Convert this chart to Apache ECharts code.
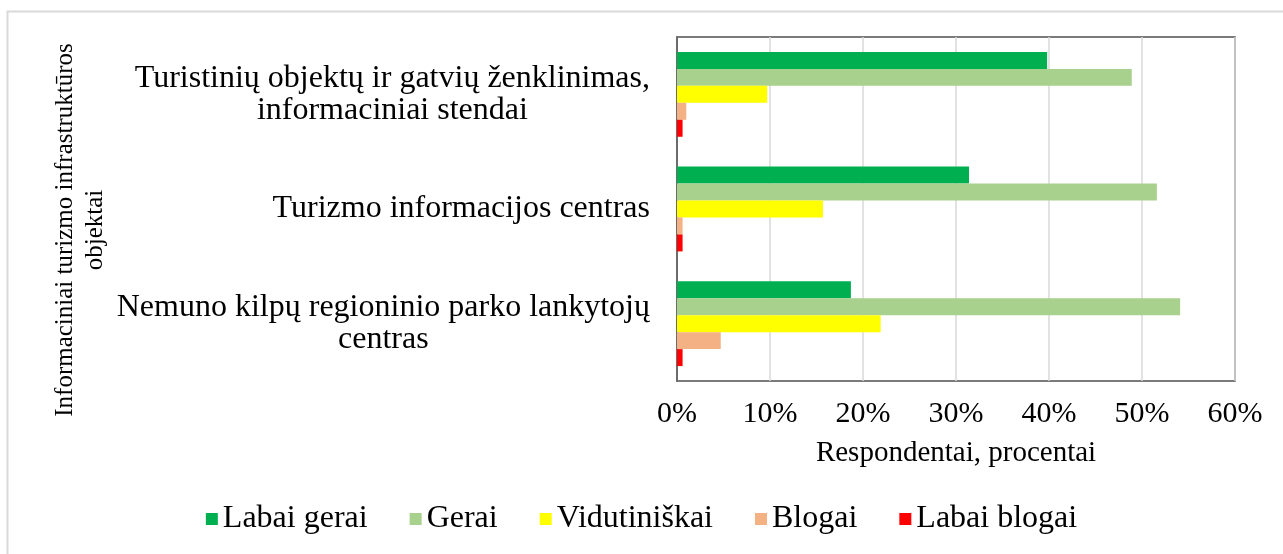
<!DOCTYPE html>
<html>
<head>
<meta charset="utf-8">
<script src="https://cdn.jsdelivr.net/npm/echarts@6/dist/echarts.min.js"></script>
<style>
  html, body { margin: 0; padding: 0; background: #fff; }
  #main { width: 1283px; height: 554px; }
</style>
</head>
<body>
<div id="main"></div>
<script>
// objektai (iš viršaus į apačią)
var categories = [
  'Turistinių objektų ir gatvių ženklinimas,\ninformaciniai stendai',
  'Turizmo informacijos centras',
  'Nemuno kilpų regioninio parko lankytojų\ncentras'
];
var seriesNames = ['Labai gerai', 'Gerai', 'Vidutiniškai', 'Blogai', 'Labai blogai'];
var seriesColors = ['#00B050', '#A9D18E', '#FFFF00', '#F4B183', '#FF0000'];

// procentai
var labaiGerai = [39.8, 31.4, 18.7];
var gerai = [48.9, 51.6, 54.1];
var vidutiniskai = [9.7, 15.7, 21.9];
var blogai = [1.0, 0.6, 4.7];
var labaiBlogai = [0.6, 0.6, 0.6];

var xTicks = { min: 0, max: 60, interval: 10 };

var values = [labaiGerai, gerai, vidutiniskai, blogai, labaiBlogai];
var font = '"Liberation Serif", "Times New Roman", serif';

var chart = echarts.init(document.getElementById('main'));

chart.setOption({
  animation: false,
  textStyle: { fontFamily: font, color: '#000' },
  graphic: [{
    type: 'rect',
    shape: { x: 7.5, y: 11.5, width: 1300, height: 600 },
    style: { fill: 'none', stroke: '#d9d9d9', lineWidth: 2 },
    silent: true
  }, {
    // y ašies pavadinimas
    type: 'text',
    x: 80,
    y: 230,
    rotation: Math.PI / 2,
    silent: true,
    style: {
      text: 'Informaciniai turizmo infrastruktūros\nobjektai',
      font: '25px ' + font,
      lineHeight: 30,
      fill: '#000',
      align: 'center',
      verticalAlign: 'middle'
    }
  }],
  grid: {
    left: 677, right: 48, top: 37, bottom: 173,
    show: true, borderColor: '#505050', borderWidth: 1.5
  },
  legend: {
    bottom: 14,
    left: 'center',
    itemWidth: 12,
    itemHeight: 12,
    itemGap: 42,
    icon: 'rect',
    textStyle: { fontFamily: font, fontSize: 32, color: '#000' },
    data: seriesNames
  },
  xAxis: {
    type: 'value',
    min: xTicks.min,
    max: xTicks.max,
    interval: xTicks.interval,
    axisLabel: { formatter: '{value}%', fontSize: 30, color: '#000', margin: 18 },
    axisLine: { show: false },
    axisTick: { show: false },
    splitLine: { lineStyle: { color: '#d9d9d9', width: 1.5 } },
    name: 'Respondentai, procentai',
    nameLocation: 'middle',
    nameGap: 58,
    nameTextStyle: { fontSize: 29, color: '#000' }
  },
  yAxis: {
    type: 'category',
    inverse: true,
    data: categories,
    axisLine: { show: true, lineStyle: { color: '#505050', width: 1.5 } },
    axisTick: { show: false },
    axisLabel: {
      margin: 27,
      color: '#000',
      fontSize: 32,
      lineHeight: 32,
      formatter: function (v) {
        return v.split('\n').map(function (s) { return '{c|' + s + '}'; }).join('\n');
      },
      rich: { c: { align: 'center', fontSize: 32, lineHeight: 32, fontFamily: font, color: '#000' } }
    }
  },
  series: seriesNames.map(function (name, i) {
    return {
      name: name,
      type: 'bar',
      data: values[i],
      barGap: '0%',
      barCategoryGap: '26%',
      itemStyle: { color: seriesColors[i] }
    };
  })
});
</script>
</body>
</html>
